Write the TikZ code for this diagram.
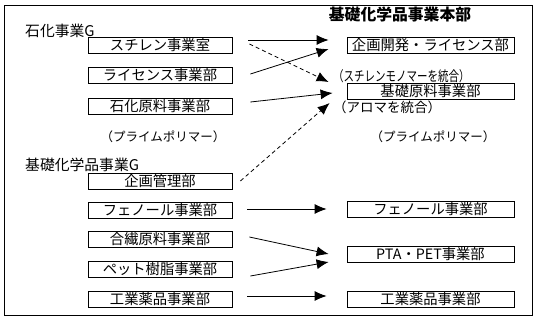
\documentclass[tikz,border=0pt]{standalone}
\usepackage{fontspec}
\setmainfont{Noto Sans CJK JP}
\usetikzlibrary{arrows.meta,calc}
\begin{document}
\begin{tikzpicture}[x=1pt,y=-1pt,
  lbox/.style={draw,line width=0.8pt,minimum width=144pt,minimum height=16pt,inner sep=0pt,font=\fontsize{14.3}{15}\selectfont},
  rbox/.style={lbox,minimum width=167pt},
  conn/.style={line width=0.8pt,-{Latex[length=12pt,width=10pt]}},
  dconn/.style={conn,dash pattern=on 4pt off 3pt},
  lbl/.style={inner sep=0pt,font=\fontsize{14.8}{16}\selectfont},
  note/.style={inner sep=0pt,font=\fontsize{12.5}{14}\selectfont}]
\useasboundingbox (0,0) rectangle (537,322);
\draw[line width=0.8pt] (4,5) rectangle (532,315);

% titles and labels
\node[lbl,font=\fontsize{15.8}{17}\selectfont\bfseries] (title) at (400,14) {基礎化学品事業本部};
\node[lbl,anchor=west] (g1) at (25,31) {石化事業G};
\node[lbl,anchor=west] (g2) at (25,165) {基礎化学品事業G};
\node[note] (pp1) at (163,137) {（プライムポリマー）};
\node[note] (pp2) at (433,137) {（プライムポリマー）};
\node[note,anchor=west,font=\fontsize{14}{15}\selectfont] (n1) at (333,76) {\scalebox{0.75}[1]{（スチレンモノマーを統合）}};
\node[note,anchor=west,font=\fontsize{13.5}{14}\selectfont] (n2) at (333,107) {（アロマを統合）};

% left boxes
\node[lbox] (sty) at (160,45) {スチレン事業室};
\node[lbox] (lic) at (160,75) {ライセンス事業部};
\node[lbox] (seki) at (160,106.5) {石化原料事業部};
\node[lbox] (kikaku) at (160,181) {企画管理部};
\node[lbox] (phe) at (160,210) {フェノール事業部};
\node[lbox] (gousen) at (160,239) {合繊原料事業部};
\node[lbox] (pet) at (160,269.5) {ペット樹脂事業部};
\node[lbox] (kogyo) at (160,299) {工業薬品事業部};

% right boxes
\node[rbox] (kk) at (430.5,45.5) {企画開発・ライセンス部};
\node[rbox] (kiso) at (430.5,91) {基礎原料事業部};
\node[rbox] (phe2) at (430.5,209.5) {フェノール事業部};
\node[rbox] (pta) at (430.5,254) {PTA・PET事業部};
\node[rbox] (kogyo2) at (430.5,299) {工業薬品事業部};

% connectors
\draw[conn] ($(sty.east)+(16,-5)$) -- ($(kk.west)+(-18,-5.5)$);
\draw[dconn] ($(sty.east)+(17,-1)$) -- ($(kiso.west)+(-18,-9)$);
\draw[conn] ($(lic.east)+(18,-1)$) -- ($(kk.west)+(-18,3.5)$);
\draw[conn] ($(seki.east)+(18,-4.5)$) -- ($(kiso.west)+(-14,2)$);
\draw[dconn] ($(kikaku.east)+(8,0)$) -- ($(kiso.west)+(-17,12)$);
\draw[conn] ($(phe.east)+(15,-1)$) -- ($(phe2.west)+(-20,-0.5)$);
\draw[conn] ($(gousen.east)+(17,-2)$) -- ($(pta.west)+(-18,0)$);
\draw[conn] ($(pet.east)+(18,6.5)$) -- ($(pta.west)+(-18,8)$);
\draw[conn] ($(kogyo.east)+(15,-3)$) -- ($(kogyo2.west)+(-20,-3)$);
\end{tikzpicture}
\end{document}
